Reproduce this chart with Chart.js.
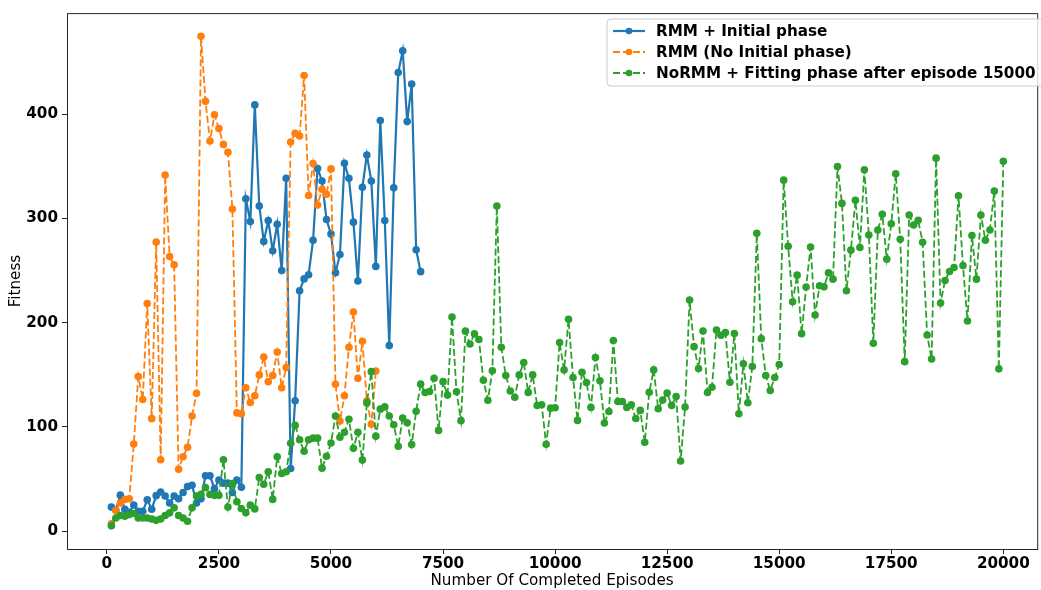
<!DOCTYPE html>
<html>
<head>
<meta charset="utf-8">
<script src="https://cdn.jsdelivr.net/npm/chart.js@4.4.1/dist/chart.umd.min.js"></script>
<style>
  html, body { margin: 0; padding: 0; background: #ffffff; }
  #wrap { width: 1041px; height: 590px; }
</style>
</head>
<body>
<div id="wrap"><canvas id="c" width="1041" height="590"></canvas></div>
<script>
// ---- data (episode step = 100) ----
const EPISODE_STEP = 100;

const rmmInitial = [
  23, 20, 34.5, 21, 18, 25, 19, 19, 30, 21,
  34, 37.5, 33.6, 27, 33.6, 31, 37, 42.7, 44, 27,
  31, 53, 53, 40.7, 49, 46, 46, 37, 49, 42,
  319, 297, 409, 312, 278, 298, 269, 294.5, 250, 338.5,
  60, 125, 230.6, 242, 246, 279, 348, 336, 299, 285,
  248, 265.5, 353, 338.5, 296.5, 240, 330, 361, 336, 254,
  394, 298, 178, 329.5, 440, 461, 393, 429, 270, 249
];

const rmmNoInitial = [
  7, 20, 27, 30.4, 31, 83.6, 148.3, 126.3, 218.4, 107.9,
  277.4, 68.5, 341.7, 263.5, 255.5, 59.4, 71.4, 80.5, 110.4, 132.2,
  474.8, 412.4, 374.3, 399.5, 386.3, 371.1, 363.6, 309.1, 113.4, 112.7,
  137.6, 123.4, 129.9, 149.9, 167, 143.4, 149.3, 171.9, 137.6, 157,
  373.4, 381.8, 379.2, 437.3, 322, 352.7, 313, 328.1, 323.3, 347.6,
  140.9, 105.6, 129.9, 176.4, 210.2, 146.6, 182.2, 125, 102.5, 153.6
];

const noRmmFitting = [
  5, 12.6, 14.9, 14.2, 15.8, 16.8, 12.6, 12.6, 12.6, 11.6,
  10.3, 11.6, 14.9, 17.5, 22.3, 14.9, 12.6, 9.4, 22.3, 33.6,
  35.2, 41.7, 35.2, 34.3, 34.3, 68.5, 23, 45.6, 28.1, 21.6,
  17.5, 24.9, 21.3, 51.4, 44.9, 56.9, 30.4, 71.4, 55.2, 56.9,
  84.3, 101.4, 87.6, 76.6, 87.6, 89.2, 89.2, 60.4, 71.8, 84.6,
  110.4, 90.1, 94.9, 107.3, 79.4, 94.9, 68.1, 123, 153, 91.1,
  117, 119.2, 110.4, 102, 81.4, 108.5, 104, 83, 115, 141,
  133, 134, 146.6, 96.6, 143.4, 130.5, 205.4, 133.7, 106, 191.9,
  179.6, 189.3, 183.8, 144.7, 125.6, 153.8, 312, 176.4, 149.2, 134.4,
  128.5, 149.9, 161.8, 133.1, 149.9, 120.5, 121.3, 83.4, 118, 118.3,
  180.9, 154.7, 203.2, 147.4, 106.2, 152.5, 142.6, 118.7, 166.5, 144.2,
  103.7, 114.8, 182.8, 124.4, 124.4, 118.7, 121.2, 108.1, 115.8, 85.2,
  133.3, 154.7, 117.4, 125.7, 132.4, 120.6, 129.2, 67.3, 119, 221.7,
  177, 156, 192, 133, 138.1, 193, 188, 190.5, 142.8, 189.6,
  112.6, 160.5, 123.2, 157.9, 285.8, 184.7, 149.3, 134.9, 147.4, 159.8,
  336.8, 273.4, 220.1, 245.6, 189.5, 234.2, 272.7, 207.4, 235.4, 234.4,
  247.8, 241.8, 349.9, 314.5, 230.6, 269.6, 317.4, 272.1, 346.7, 284.2,
  180.2, 289, 304, 261, 295, 342.9, 280, 162.6, 303.3, 293.8,
  298.2, 277.2, 188.2, 165.2, 357.9, 218.8, 240.5, 249.1, 252.9, 321.8,
  254.8, 201.6, 283.6, 241.8, 303.3, 279.1, 289, 326.3, 155.7, 355
];

const seriesLabels = [
  'RMM + Initial phase',
  'RMM (No Initial phase)',
  'NoRMM + Fitting phase after episode 15000'
];
const xTickValues = [0, 2500, 5000, 7500, 10000, 12500, 15000, 17500, 20000];
const yTickValues = [0, 100, 200, 300, 400];
const xAxisTitle = 'Number Of Completed Episodes';
const yAxisTitle = 'Fitness';

// ---- styling ----
const COLORS = ['#1f77b4', '#ff7f0e', '#2ca02c'];
const DASHES = [[], [7, 3], [7, 3]];
const FONT = "'DejaVu Sans', 'Liberation Sans', sans-serif";
const FONT_SIZE = 15.2;
const POINT_R = 3.8;

function toPoints(values) {
  return values.map((v, i) => ({ x: (i + 1) * EPISODE_STEP, y: v }));
}

const datasets = [rmmInitial, rmmNoInitial, noRmmFitting].map((vals, k) => ({
  label: seriesLabels[k],
  data: toPoints(vals),
  borderColor: COLORS[k],
  backgroundColor: COLORS[k],
  pointBackgroundColor: COLORS[k],
  pointBorderColor: COLORS[k],
  pointBorderWidth: 0,
  pointRadius: POINT_R,
  pointHoverRadius: POINT_R,
  borderWidth: k === 0 ? 2.2 : 1.8,
  borderDash: DASHES[k],
  tension: 0,
  fill: false,
  order: 2 - k
}));

// frame (all four spines)
const framePlugin = {
  id: 'frame',
  afterDraw(chart) {
    const { ctx, chartArea: a } = chart;
    ctx.save();
    ctx.strokeStyle = '#262626';
    ctx.lineWidth = 1;
    ctx.strokeRect(a.left + 0.5, a.top + 0.5, a.right - a.left, a.bottom - a.top);
    ctx.restore();
  }
};

// matplotlib-like legend
const legendPlugin = {
  id: 'mplLegend',
  afterDraw(chart) {
    const { ctx } = chart;
    const boxX = 607, boxY = 19, boxW = 445, boxH = 67, r = 4;
    ctx.save();
    ctx.beginPath();
    ctx.moveTo(boxX + r, boxY);
    ctx.lineTo(boxX + boxW - r, boxY);
    ctx.arcTo(boxX + boxW, boxY, boxX + boxW, boxY + r, r);
    ctx.lineTo(boxX + boxW, boxY + boxH - r);
    ctx.arcTo(boxX + boxW, boxY + boxH, boxX + boxW - r, boxY + boxH, r);
    ctx.lineTo(boxX + r, boxY + boxH);
    ctx.arcTo(boxX, boxY + boxH, boxX, boxY + boxH - r, r);
    ctx.lineTo(boxX, boxY + r);
    ctx.arcTo(boxX, boxY, boxX + r, boxY, r);
    ctx.closePath();
    ctx.fillStyle = 'rgba(255,255,255,0.8)';
    ctx.fill();
    ctx.strokeStyle = '#cccccc';
    ctx.lineWidth = 1;
    ctx.stroke();

    const rows = [31, 52, 73];
    ctx.font = 'bold ' + FONT_SIZE + 'px ' + FONT;
    ctx.textBaseline = 'middle';
    ctx.textAlign = 'left';
    seriesLabels.forEach((lab, k) => {
      const y = rows[k];
      ctx.strokeStyle = COLORS[k];
      ctx.lineWidth = k === 0 ? 2.2 : 1.8;
      ctx.setLineDash(DASHES[k]);
      ctx.beginPath();
      ctx.moveTo(613, y);
      ctx.lineTo(645, y);
      ctx.stroke();
      ctx.setLineDash([]);
      ctx.fillStyle = COLORS[k];
      ctx.beginPath();
      ctx.arc(629, y, 3.3, 0, Math.PI * 2);
      ctx.fill();
      ctx.fillStyle = '#000000';
      ctx.fillText(lab, 656, y + 1);
    });
    ctx.restore();
  }
};

const tickFont = { family: FONT, size: FONT_SIZE, weight: 'bold' };
const titleFont = { family: FONT, size: FONT_SIZE, weight: 'normal' };

new Chart(document.getElementById('c').getContext('2d'), {
  type: 'line',
  data: { datasets },
  options: {
    responsive: false,
    animation: false,
    events: [],
    layout: { padding: { top: 12, right: 1, left: 0, bottom: 0 } },
    plugins: { legend: { display: false }, tooltip: { enabled: false } },
    scales: {
      x: {
        type: 'linear',
        min: -890,
        max: 20756,
        afterBuildTicks: s => { s.ticks = xTickValues.map(v => ({ value: v })); },
        afterFit: s => { s.height = 41; },
        grid: { display: true, drawOnChartArea: false, drawTicks: true, tickLength: 5, color: '#262626', lineWidth: 1 },
        border: { display: false },
        ticks: { color: '#000', font: tickFont, padding: 1, maxRotation: 0, autoSkip: false,
                 callback: v => String(v) },
        title: { display: true, text: xAxisTitle, color: '#000', font: titleFont, padding: { top: 0, bottom: 0 } }
      },
      y: {
        type: 'linear',
        min: -17.2,
        max: 497.1,
        afterBuildTicks: s => { s.ticks = yTickValues.map(v => ({ value: v })); },
        afterFit: s => { s.width = 67; },
        grid: { display: true, drawOnChartArea: false, drawTicks: true, tickLength: 5, color: '#262626', lineWidth: 1 },
        border: { display: false },
        ticks: { color: '#000', font: tickFont, padding: 4, callback: v => String(v) },
        title: { display: true, text: yAxisTitle, color: '#000', font: titleFont, padding: { top: 7, bottom: 0 } }
      }
    }
  },
  plugins: [framePlugin, legendPlugin]
});
</script>
</body>
</html>
